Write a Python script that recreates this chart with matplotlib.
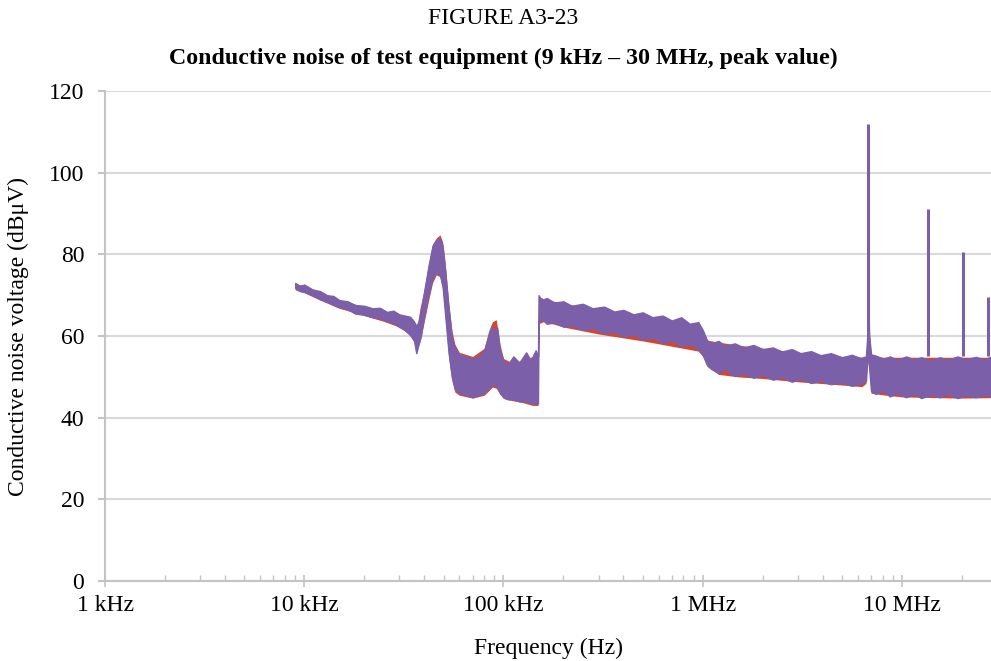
import numpy as np
import matplotlib
matplotlib.use("Agg")
import matplotlib.pyplot as plt
from matplotlib.ticker import FixedLocator, LogLocator, NullFormatter

plt.rcParams['font.family'] = ['Liberation Serif', 'DejaVu Serif']

# Measurement 1: peak envelope (min / max of the trace) per frequency, kHz / dBuV
meas1_khz = [9, 9.5, 10, 11, 12, 13, 14, 15, 16.5, 18, 20, 22, 24, 26, 28, 30,
             32, 34, 35.5, 36.5, 37.5,
             38.5, 40, 42, 44, 46, 48, 49.5, 51, 53, 55, 57, 60, 65, 70, 75,
             80, 84, 87, 90, 93, 96, 100, 105, 112, 120, 130, 137, 145, 149,
             150, 155, 165, 180, 200, 220, 250, 280, 320, 360, 400, 450, 500,
             560, 630, 700, 780, 860, 950, 1000,
             1050, 1100, 1200, 1300, 1450, 1600, 1800, 2000, 2250, 2500, 2800,
             3100, 3500, 3900, 4400, 5000, 5600, 6200, 6600,
             6700, 6780, 6850, 7000,
             7400, 8000, 8700, 9500, 10500, 11500, 12500, 14000, 15500, 17000,
             19000, 21000, 23500, 26000, 28000]
meas1_hi = [73.0, 72.3, 72.6, 71.4, 71.0, 70.0, 69.8, 68.8, 68.5, 67.6, 67.4,
            66.8, 66.9, 65.9, 66.2, 65.3, 65.0, 64.7, 63.6, 62.5, 63.5,
            66.0, 71.0, 77.0, 82.0, 83.5, 84.0, 82.0, 76.0, 67.0, 60.0, 57.0,
            55.5, 55.0, 54.5, 55.0, 56.5, 60.0, 62.5, 61.0, 62.0, 56.5, 54.0,
            53.0, 55.0, 53.5, 56.0, 54.0, 56.5, 55.0,
            70.0, 68.8, 69.3, 68.2, 68.5, 67.4, 67.9, 66.8, 67.2, 66.0, 66.4,
            65.3, 65.8, 64.6, 65.0, 63.8, 64.6, 63.0, 63.4, 61.5,
            59.0, 58.2, 58.8, 57.6, 58.2, 57.2, 57.8, 56.8, 57.2, 56.2, 56.8,
            55.8, 56.3, 55.3, 55.8, 54.8, 55.4, 54.6, 55.0,
            60.0, 68.0, 60.0, 55.5,
            55.2, 54.4, 55.0, 54.2, 55.0, 54.3, 54.8, 54.0, 54.8, 54.2, 55.0,
            54.3, 54.9, 54.2, 55.0]
meas1_lo = [71.8, 71.0, 70.8, 70.0, 69.0, 68.4, 67.6, 67.0, 66.6, 65.5, 65.2,
            64.6, 64.4, 63.6, 63.2, 62.2, 61.5, 60.2, 59.0, 55.8, 58.0,
            60.0, 65.0, 70.0, 74.0, 75.5, 75.0, 72.0, 65.0, 56.0, 50.0, 47.0,
            46.0, 45.5, 45.0, 45.5, 46.0, 47.0, 48.0, 48.0, 47.5, 46.0, 45.0,
            44.5, 44.5, 44.0, 44.0, 43.5, 43.5, 43.5,
            63.5, 64.2, 63.0, 63.3, 62.3, 62.6, 61.5, 61.9, 60.7, 61.0, 59.9,
            60.3, 59.2, 59.5, 58.4, 58.8, 57.6, 57.9, 56.8, 55.5,
            53.0, 52.0, 51.0, 51.8, 50.2, 50.8, 49.8, 50.5, 49.3, 49.9, 48.8,
            49.5, 48.5, 49.0, 48.2, 48.6, 47.8, 48.3, 49.0,
            54.0, 56.0, 52.0, 46.5,
            45.8, 46.6, 45.2, 46.0, 45.0, 45.8, 44.8, 45.6, 45.0, 45.8, 44.8,
            45.5, 45.0, 45.6, 45.2]

# Measurement 2: peak envelope per frequency, kHz / dBuV
meas2_khz = [9, 10, 12, 15, 20, 25, 30, 34, 36.5, 38, 40, 42, 44, 46, 48,
             49.5, 51, 53, 55, 57, 60, 70, 80, 84, 88, 92, 96, 100, 110, 125,
             140, 149, 150, 160, 200, 300, 500, 700, 950, 1000, 1050, 1200,
             1500, 2000, 3000, 5000, 6300, 6600, 6700, 6850, 7000, 8000,
             10000, 15000, 20000, 28000]
meas2_hi = [72.8, 72.3, 70.8, 68.8, 67.2, 66.2, 65.0, 64.0, 61.0, 66.5, 71.5,
            77.5, 82.5, 84.0, 84.8, 83.0, 77.5, 68.5, 61.5, 58.0, 56.0, 55.0,
            57.0, 61.0, 63.5, 64.0, 58.0, 54.5, 53.5, 54.0, 55.0, 55.0, 69.8,
            69.0, 68.0, 66.5, 65.0, 63.5, 62.8, 61.0, 59.0, 58.5, 57.8, 57.0,
            56.0, 55.0, 54.8, 55.0, 61.5, 61.5, 55.5, 54.8, 54.8, 54.8, 54.8,
            54.8]
meas2_lo = [71.3, 70.6, 68.8, 66.8, 65.0, 63.6, 62.2, 60.2, 57.5, 58.5, 63.5,
            68.5, 73.0, 75.0, 74.5, 71.5, 64.5, 55.0, 49.3, 46.3, 45.5, 44.8,
            45.5, 46.5, 47.5, 47.2, 45.8, 44.7, 44.2, 43.7, 43.0, 43.0, 63.0,
            63.6, 62.2, 60.5, 58.8, 57.5, 56.3, 55.0, 52.6, 50.6, 50.0, 49.6,
            48.8, 48.0, 47.6, 48.4, 54.0, 52.0, 46.0, 45.6, 45.1, 44.9, 44.8,
            44.9]

# Narrowband emissions (harmonics of the 6.78 MHz carrier)
spike_khz = [6780, 13560, 20340, 27120]
spike_top = [112.0, 91.0, 80.5, 69.5]
spike_base = [55.0, 55.0, 55.0, 55.0]

tick_pos = [1e3, 1e4, 1e5, 1e6, 1e7]
tick_labels = ["1 kHz", "10 kHz", "100 kHz", "1 MHz", "10 MHz"]
y_ticks = [0, 20, 40, 60, 80, 100, 120]

RED = "#d6452e"
PURPLE = "#7b60a9"
GRID = "#d9d9d9"
AXIS = "#c4c4c4"

fig = plt.figure(figsize=(9.91, 6.61), dpi=100)
ax = fig.add_axes([0.106, 0.121, 0.894, 0.7413])

ax.fill_between(np.array(meas2_khz) * 1e3, meas2_lo, meas2_hi, color=RED,
                lw=0, zorder=3)
ax.fill_between(np.array(meas1_khz) * 1e3, meas1_lo, meas1_hi, color=PURPLE,
                edgecolor=PURPLE, lw=1.0, zorder=4)
ax.vlines(np.array(spike_khz) * 1e3, spike_base, spike_top, color=PURPLE,
          lw=2.2, zorder=5)

ax.set_xscale("log")
ax.set_xlim(1e3, 2.8e7)
ax.set_ylim(0, 120)

ax.xaxis.set_major_locator(FixedLocator(tick_pos))
ax.set_xticklabels(tick_labels)
ax.xaxis.set_minor_locator(LogLocator(base=10, subs=np.arange(2, 10)))
ax.xaxis.set_minor_formatter(NullFormatter())
ax.set_yticks(y_ticks)

ax.grid(axis="y", color=GRID, lw=1.5, zorder=0)
ax.set_axisbelow(True)
for side in ("top", "right"):
    ax.spines[side].set_visible(False)
for side in ("left", "bottom"):
    ax.spines[side].set_color(AXIS)
    ax.spines[side].set_linewidth(1.5)

ax.tick_params(axis="x", which="major", direction="inout", length=8,
               width=1.2, color=AXIS, labelsize=17, pad=6)
ax.tick_params(axis="x", which="minor", direction="in", length=4,
               width=1.0, color=AXIS)
ax.tick_params(axis="y", which="major", direction="out", length=5,
               width=1.5, color=AXIS, labelsize=17, pad=10)

ax.set_xlabel("Frequency (Hz)", fontsize=17, labelpad=16)
ax.set_ylabel("Conductive noise voltage (dB\u03bcV)", fontsize=17, labelpad=14)

fig.text(0.508, 0.972, "FIGURE A3-23", ha="center", va="center", fontsize=17)
fig.text(0.508, 0.912,
         "Conductive noise of test equipment (9 kHz \u2013 30 MHz, peak value)",
         ha="center", va="center", fontsize=17.2, fontweight="bold")

fig.savefig("out.png", dpi=100)
